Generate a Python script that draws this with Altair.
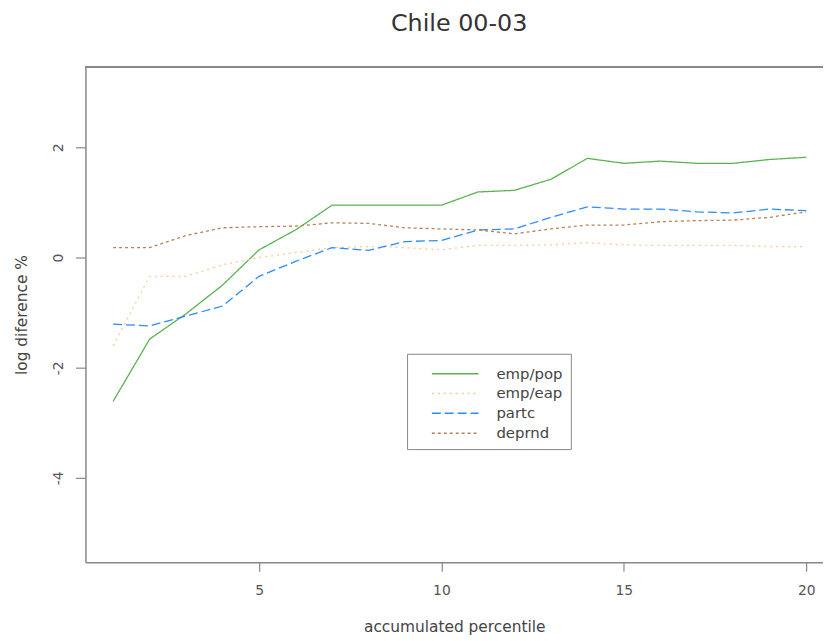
import altair as alt
import pandas as pd

# Data
percentile = list(range(1, 21))
series_names = ["emp/pop", "emp/eap", "partc", "deprnd"]
emp_pop = [-2.61, -1.48, -1.02, -0.50, 0.14, 0.50, 0.95, 0.95, 0.95, 0.95,
           1.19, 1.22, 1.42, 1.80, 1.71, 1.75, 1.71, 1.71, 1.78, 1.82]
emp_eap = [-1.60, -0.34, -0.34, -0.13, 0.00, 0.09, 0.18, 0.20, 0.18, 0.14,
           0.22, 0.22, 0.23, 0.27, 0.23, 0.22, 0.22, 0.22, 0.20, 0.20]
partc = [-1.21, -1.24, -1.06, -0.88, -0.34, -0.07, 0.18, 0.13, 0.29, 0.31,
         0.50, 0.52, 0.73, 0.92, 0.88, 0.88, 0.83, 0.81, 0.88, 0.85]
deprnd = [0.18, 0.18, 0.40, 0.54, 0.56, 0.57, 0.63, 0.62, 0.54, 0.52,
          0.50, 0.43, 0.52, 0.59, 0.59, 0.65, 0.67, 0.68, 0.73, 0.83]
x_ticks = [5, 10, 15, 20]
y_ticks = [-4, -2, 0, 2]

colors = ["#5ab350", "#ffc890", "#2a8cff", "#b58258"]
dashes = [[1, 0], [2, 4], [9, 4], [3, 3]]

rows = []
for name, vals in zip(series_names, [emp_pop, emp_eap, partc, deprnd]):
    for p, v in zip(percentile, vals):
        rows.append({"percentile": p, "value": v, "series": name})
df = pd.DataFrame(rows)

FONT = "DejaVu Sans"
W, H = 743, 499

legend = alt.Legend(
    title=" ", titleFontSize=2, titlePadding=2.5,
    orient="none", legendX=324, legendY=289,
    padding=8, fillColor="white", strokeColor="#888888",
    symbolType="M-4.7,0H4.7", symbolSize=100, symbolStrokeWidth=1.5,
    symbolOffset=33, labelOffset=34, rowPadding=4,
    labelFont=FONT, labelFontSize=15, labelColor="#444444",
)

lines = alt.Chart(df).mark_line(strokeWidth=1.3).encode(
    x=alt.X("percentile:Q",
            scale=alt.Scale(domain=[0.24, 20.46], nice=False, zero=False),
            axis=alt.Axis(values=x_ticks, title="accumulated percentile",
                          grid=False, tickSize=9, labelPadding=12,
                          titlePadding=23)),
    y=alt.Y("value:Q",
            scale=alt.Scale(domain=[-5.53, 3.46], nice=False, zero=False),
            axis=alt.Axis(values=y_ticks, title="log diference %",
                          grid=False, tickSize=10, labelPadding=10,
                          labelAngle=270, labelAlign="center",
                          labelBaseline="bottom",
                          labelExpr="'' + datum.value",
                          titlePadding=22)),
    color=alt.Color("series:N", sort=series_names,
                    scale=alt.Scale(domain=series_names, range=colors),
                    legend=legend),
    strokeDash=alt.StrokeDash("series:N", sort=series_names,
                              scale=alt.Scale(domain=series_names, range=dashes),
                              legend=legend),
    order=alt.Order("percentile:Q"),
)

top_border = alt.Chart(df).mark_rule(color="#888888", strokeWidth=1.5).encode(
    x=alt.value(0), x2=alt.value(W), y=alt.value(0)
)

chart = alt.layer(lines, top_border).properties(
    width=W, height=H,
    title=alt.TitleParams("Chile 00-03", fontSize=24, font=FONT,
                          fontWeight="normal", color="#333333",
                          anchor="middle", offset=30, dx=5),
    autosize=alt.AutoSizeParams(type="none"),
    padding={"left": 78, "top": 57, "right": 0, "bottom": 77},
).configure_view(stroke=None).configure_axis(
    domainColor="#888888", domainWidth=1.5, tickColor="#888888",
    tickWidth=1.2, labelFont=FONT, labelFontSize=14, labelColor="#555555",
    titleFont=FONT, titleFontSize=15.5, titleFontWeight="normal",
    titleColor="#444444",
)

chart.save("out.html", embed_options={"renderer": "svg", "actions": False})
